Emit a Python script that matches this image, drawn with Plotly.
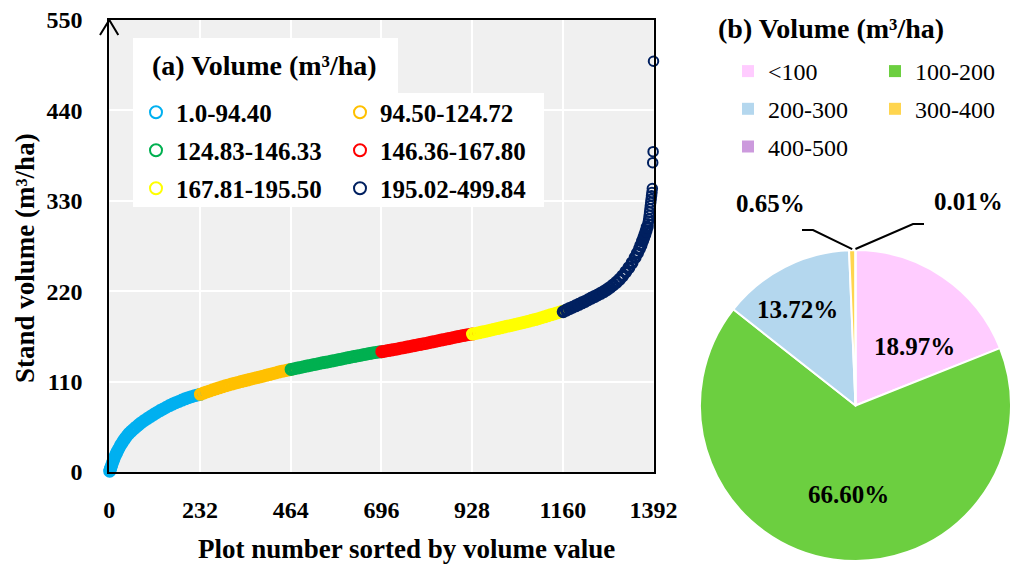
import math
import plotly.graph_objects as go

W, H = 1011, 566
FONT = "Liberation Serif, Times New Roman, serif"

# ---------------- (a) stand volume of every plot, sorted ascending ----------------
plot_number = [
    # 1.0-94.40
    1, 2, 3, 4, 6, 8, 10, 12, 15, 18, 21, 24, 28, 32, 36, 40, 45, 50, 56, 62, 68,
    75, 82, 90, 98, 106, 114, 122, 130, 138, 146, 154, 162, 170, 178, 186, 194,
    202, 210, 218, 226, 232,
    # 94.50-124.72
    233, 241, 249, 257, 265, 273, 281, 289, 297, 305, 313, 321, 329, 337, 345,
    353, 361, 369, 377, 385, 393, 401, 409, 417, 425, 433, 441, 449, 457, 464,
    # 124.83-146.33
    465, 473, 481, 489, 497, 505, 513, 521, 529, 537, 545, 553, 561, 569, 577,
    585, 593, 601, 609, 617, 625, 633, 641, 649, 657, 665, 673, 681, 689, 696,
    # 146.36-167.80
    697, 705, 713, 721, 729, 737, 745, 753, 761, 769, 777, 785, 793, 801, 809,
    817, 825, 833, 841, 849, 857, 865, 873, 881, 889, 897, 905, 913, 921, 928,
    # 167.81-195.50
    929, 937, 945, 953, 961, 969, 977, 985, 993, 1001, 1009, 1017, 1025, 1033,
    1041, 1049, 1057, 1065, 1073, 1081, 1089, 1097, 1105, 1113, 1121, 1129,
    1137, 1145, 1153, 1160,
    # 195.02-499.84
    1161, 1169, 1177, 1185, 1193, 1201, 1209, 1217, 1225, 1233, 1241, 1249,
    1257, 1265, 1273, 1281, 1289, 1297, 1305, 1313, 1321, 1329, 1337, 1345,
    1351, 1356, 1360, 1364, 1367, 1370, 1373, 1376, 1378, 1379, 1380, 1381,
    1382, 1383, 1384, 1385, 1386, 1387, 1388, 1389, 1390, 1391, 1392,
]
stand_volume = [
    1.0, 2.6, 4.1, 5.5, 8.2, 11.0, 13.8, 16.0, 19.6, 22.6, 25.5, 28.3, 31.8,
    35.0, 37.8, 40.6, 43.8, 46.8, 49.5, 52.0, 54.6, 57.4, 60.0, 62.8, 65.3,
    67.8, 70.2, 72.5, 74.7, 76.8, 78.8, 80.8, 82.6, 84.3, 85.9, 87.5, 89.0,
    90.4, 91.7, 92.8, 93.8, 94.4,
    94.5, 96.0, 97.4, 98.7, 100.0, 101.2, 102.4, 103.6, 104.8, 105.9, 107.0,
    108.0, 109.0, 110.0, 111.0, 111.9, 112.9, 113.8, 114.8, 115.7, 116.6,
    117.6, 118.6, 119.6, 120.6, 121.6, 122.5, 123.3, 124.0, 124.72,
    124.83, 125.7, 126.5, 127.3, 128.1, 128.9, 129.7, 130.5, 131.2, 132.0,
    132.8, 133.5, 134.3, 135.0, 135.8, 136.6, 137.3, 138.1, 138.9, 139.6,
    140.4, 141.2, 141.9, 142.7, 143.4, 144.1, 144.8, 145.4, 145.9, 146.33,
    146.36, 147.0, 147.7, 148.4, 149.1, 149.8, 150.6, 151.3, 152.0, 152.8,
    153.5, 154.3, 155.0, 155.8, 156.5, 157.3, 158.1, 158.9, 159.7, 160.5,
    161.3, 162.1, 162.9, 163.7, 164.5, 165.3, 166.0, 166.7, 167.3, 167.80,
    167.81, 168.6, 169.4, 170.3, 171.1, 172.0, 172.8, 173.7, 174.5, 175.4,
    176.3, 177.2, 178.1, 179.0, 179.9, 180.8, 181.7, 182.6, 183.5, 184.5,
    185.5, 186.6, 187.7, 188.8, 190.0, 191.2, 192.4, 193.6, 194.7, 195.5,
    195.02, 197.0, 198.8, 200.5, 202.2, 204.0, 205.8, 207.6, 209.6, 211.6,
    213.5, 215.4, 217.4, 219.6, 222.0, 224.6, 227.6, 230.8, 234.4, 238.6,
    243.5, 248.6, 254.4, 261.0, 266.5, 271.5, 276.0, 281.0, 285.0, 289.0,
    293.5, 298.0, 302.0, 305.0, 308.0, 312.0, 316.0, 320.0, 324.0, 328.0,
    332.0, 336.0, 340.0, 345.0, 376.4, 389.8, 499.84,
]
class_last_plot = [232, 464, 696, 928, 1160, 1392]
class_labels = ["1.0-94.40", "94.50-124.72", "124.83-146.33",
                "146.36-167.80", "167.81-195.50", "195.02-499.84"]
class_colors = ["#00B0F0", "#FFC000", "#00B050", "#FF0000", "#FFFF00", "#002060"]

x_ticks = [0, 232, 464, 696, 928, 1160, 1392]
y_ticks = [0, 110, 220, 330, 440, 550]

# ---------------- (b) share of plots by volume class (%) ----------------
pie_labels = ["<100", "100-200", "200-300", "300-400", "400-500"]
pie_share = [18.97, 66.60, 13.72, 0.65, 0.01]
pie_colors = ["#FFCCFF", "#6CCF40", "#B4D7EE", "#FFD54F", "#CC9ADD"]


def px(x):
    return x / W


def py(y):
    return 1 - y / H


fig = go.Figure()

# scatter of sorted volumes, one trace per class; two legend columns
lo = 0
for k, (hi, name, col) in enumerate(zip(class_last_plot, class_labels, class_colors)):
    xs = [p for p in plot_number if lo < p <= hi]
    ys = [v for p, v in zip(plot_number, stand_volume) if lo < p <= hi]
    # thick rings where the points crowd into a band, thin rings for the sparse tail
    ring = [2 if v >= 300 else 3.5 for v in ys]
    fig.add_trace(go.Scatter(
        x=xs, y=ys, mode="markers", name=name,
        marker=dict(symbol="circle-open", size=9.5, color=col,
                    line=dict(width=ring, color=col)),
        cliponaxis=False,
        legend="legend" if k % 2 == 0 else "legend2",
        legendgroup=name,
    ))
    lo = hi

# legend keys for the pie classes, laid out in two columns
for k, (name, col) in enumerate(zip(pie_labels, pie_colors)):
    fig.add_trace(go.Scatter(
        x=[None], y=[None], mode="markers",
        name=name.replace("<", "&lt;"),
        marker=dict(symbol="square", size=12, color=col),
        legend="legend3" if k % 2 == 0 else "legend4",
        legendgroup="pie" + name, showlegend=True, hoverinfo="skip",
    ))

pie_dom_x = [700 / W, 1.0]
pie_dom_y = [0.0, 321 / H]
fig.add_trace(go.Pie(
    labels=pie_labels, values=pie_share, sort=False,
    direction="clockwise", rotation=0,
    marker=dict(colors=pie_colors, line=dict(color="white", width=2)),
    textinfo="none",
    domain=dict(x=pie_dom_x, y=pie_dom_y), showlegend=False,
))

axis_common = dict(
    showline=True, mirror=True, linecolor="black", linewidth=2,
    showgrid=True, gridcolor="white", gridwidth=1.5, zeroline=False,
    ticks="", automargin=False,
    tickfont=dict(family=FONT, size=24, color="black", weight="bold"),
)

legend_common = dict(
    orientation="v", xanchor="left", yanchor="top", itemsizing="constant",
    bgcolor="rgba(0,0,0,0)", borderwidth=0, traceorder="grouped",
)
leg_a_font = dict(family=FONT, size=25, color="black", weight="bold")
leg_b_font = dict(family=FONT, size=24, color="black", weight="normal")

fig.update_layout(
    width=W, height=H, autosize=False,
    font=dict(family=FONT, color="black"),
    margin=dict(l=0, r=0, t=0, b=0, pad=0, autoexpand=False),
    paper_bgcolor="white", plot_bgcolor="#F0F0F0",
    xaxis=dict(domain=[px(109.3), px(653.5)], range=[0, 1392], tickvals=x_ticks,
               ticklabelstandoff=15, **axis_common),
    yaxis=dict(domain=[py(472), py(20)], range=[0, 550], tickvals=y_ticks,
               ticklabelstandoff=20, **axis_common),
    legend=dict(x=px(136), y=py(89.5), font=leg_a_font, tracegroupgap=2.5, **legend_common),
    legend2=dict(x=px(340), y=py(89.5), font=leg_a_font, tracegroupgap=2.5, **legend_common),
    legend3=dict(x=px(728), y=py(49), font=leg_b_font, tracegroupgap=3.5, **legend_common),
    legend4=dict(x=px(875), y=py(49), font=leg_b_font, tracegroupgap=3.5, **legend_common),
    showlegend=True,
)

white = dict(type="rect", xref="paper", yref="paper", layer="above",
             fillcolor="white", line=dict(width=0))
fig.add_shape(x0=px(133), x1=px(398), y0=py(93), y1=py(38), **white)
fig.add_shape(x0=px(133), x1=px(544), y0=py(207), y1=py(93), **white)

# arrow head on top of the vertical axis
fig.add_shape(type="path", xref="paper", yref="paper", layer="above",
              path=f"M {px(100)},{py(35)} L {px(109.3)},{py(20)} L {px(118.3)},{py(35)}",
              line=dict(color="black", width=2))

title_font = dict(family=FONT, size=28, color="black", weight="bold")
axis_title_font = dict(family=FONT, size=27, color="black", weight="bold")
fig.add_annotation(text="(a) Volume (m³/ha)", xref="paper", yref="paper",
                   x=px(150), y=py(66), xanchor="left", yanchor="middle",
                   showarrow=False, font=title_font)
fig.add_annotation(text="(b) Volume (m³/ha)", xref="paper", yref="paper",
                   x=px(716), y=py(28), xanchor="left", yanchor="middle",
                   showarrow=False, font=title_font)
fig.add_annotation(text="Plot number sorted by volume value", xref="paper", yref="paper",
                   x=px(406), y=py(549), xanchor="center", yanchor="middle",
                   showarrow=False, font=axis_title_font)
fig.add_annotation(text="Stand volume (m³/ha)", xref="paper", yref="paper",
                   x=px(25), y=py(258), xanchor="center", yanchor="middle",
                   textangle=-90, showarrow=False, font=axis_title_font)

# pie geometry (pixels) as laid out by the domain above
cx = W * (pie_dom_x[0] + pie_dom_x[1]) / 2
cy = H * (1 - (pie_dom_y[0] + pie_dom_y[1]) / 2)
rad = min(W * (pie_dom_x[1] - pie_dom_x[0]), H * (pie_dom_y[1] - pie_dom_y[0])) / 2
total = sum(pie_share)
pct_font = dict(family=FONT, size=25, color="black", weight="bold")

# percentage labels inside the three large slices (offsets in units of the radius)
inside_spot = {0: (0.377, -0.379), 1: (-0.043, 0.571), 2: (-0.373, -0.615)}
for k, (fx, fy) in inside_spot.items():
    fig.add_annotation(text=f"{pie_share[k]:.2f}%", xref="paper", yref="paper",
                       x=px(cx + fx * rad), y=py(cy + fy * rad),
                       xanchor="center", yanchor="middle", showarrow=False, font=pct_font)

# labels of the two thin slices, with leader lines to the pie rim
label_spots = {3: ((770, 203), (802, 230), (813, 230)),
               4: ((968, 201), (924, 224), (913, 224))}
for k, ((tx, ty), (sx, sy), (ex, ey)) in label_spots.items():
    mid = (sum(pie_share[:k]) + pie_share[k] / 2) / total * 2 * math.pi
    rx = cx + rad * math.sin(mid)
    ry = cy - rad * math.cos(mid) - 1
    fig.add_annotation(text=f"{pie_share[k]:.2f}%", xref="paper", yref="paper",
                       x=px(tx), y=py(ty), xanchor="center", yanchor="middle",
                       showarrow=False, font=pct_font)
    fig.add_shape(type="path", xref="paper", yref="paper", layer="above",
                  path=f"M {px(sx)},{py(sy)} L {px(ex)},{py(ey)} L {px(rx)},{py(ry)}",
                  line=dict(color="black", width=2))

fig.write_html("out.html")
